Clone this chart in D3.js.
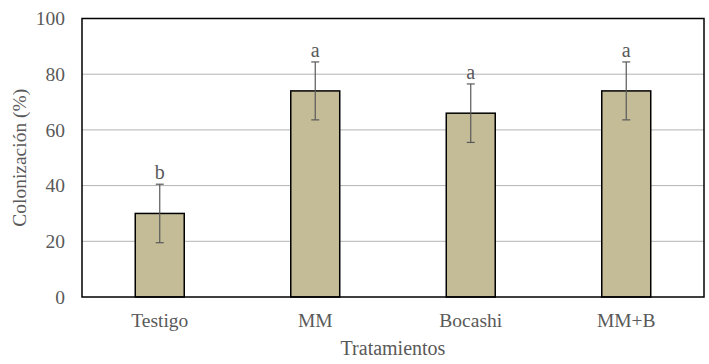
<!DOCTYPE html>
<html>
<head>
<meta charset="utf-8">
<script src="https://cdn.jsdelivr.net/npm/d3@7"></script>
<style>
  body { margin: 0; background: #fff; }
  text { font-family: "Liberation Serif", "Times New Roman", serif; fill: #595959; }
</style>
</head>
<body>
<script>
// data
const categories = ["Testigo", "MM", "Bocashi", "MM+B"];
const means = [30, 74, 66, 74];
const errors = [10.5, 10.4, 10.5, 10.4];
const letters = ["b", "a", "a", "a"];
const yTicks = [0, 20, 40, 60, 80, 100];

function main(){
    let width = 709, height = 364;
    let margin = {left: 82, right: 5, top: 18.5, bottom: 67};
    let w = width - margin.left - margin.right;
    let h = height - margin.top - margin.bottom;

    let svg = d3.select("body").append("svg")
        .attr("width", width)
        .attr("height", height);

    let g = svg.append("g")
        .attr("transform", "translate(" + margin.left + "," + margin.top + ")");

    let xScale = d3.scaleBand().domain(categories).range([0, w]).paddingInner(0.685).paddingOuter(0.3425);
    let yScale = d3.scaleLinear().domain([0, 100]).range([h, 0]);

    // gridlines
    g.selectAll(".grid")
        .data(yTicks.filter(d => d > 0 && d < 100))
        .enter().append("line")
        .attr("x1", 0).attr("x2", w)
        .attr("y1", d => yScale(d)).attr("y2", d => yScale(d))
        .attr("stroke", "#b3b3b3")
        .attr("stroke-width", 1);

    // bars
    let rows = categories.map((c, i) => ({cat: c, v: means[i], e: errors[i], l: letters[i]}));
    g.selectAll("rect.bar")
        .data(rows)
        .enter().append("rect")
        .attr("class", "bar")
        .attr("x", d => xScale(d.cat))
        .attr("y", d => yScale(d.v))
        .attr("width", xScale.bandwidth())
        .attr("height", d => h - yScale(d.v))
        .attr("fill", "#c4bc96")
        .attr("stroke", "#000")
        .attr("stroke-width", 1.5);

    // error bars
    let cx = d => xScale(d.cat) + xScale.bandwidth() / 2;
    let eg = g.selectAll(".err").data(rows).enter().append("g");
    eg.append("line")
        .attr("x1", cx).attr("x2", cx)
        .attr("y1", d => yScale(d.v + d.e)).attr("y2", d => yScale(d.v - d.e))
        .attr("stroke", "#595959").attr("stroke-width", 1.2);
    [1, -1].forEach(s => {
        eg.append("line")
            .attr("x1", d => cx(d) - 4).attr("x2", d => cx(d) + 4)
            .attr("y1", d => yScale(d.v + s * d.e)).attr("y2", d => yScale(d.v + s * d.e))
            .attr("stroke", "#595959").attr("stroke-width", 1.2);
    });
    eg.append("text")
        .attr("x", cx)
        .attr("y", d => yScale(d.v + d.e) - 5)
        .attr("text-anchor", "middle")
        .attr("font-size", 20)
        .text(d => d.l);

    // plot border
    g.append("rect")
        .attr("x", 0).attr("y", 0)
        .attr("width", w).attr("height", h)
        .attr("fill", "none")
        .attr("stroke", "#000")
        .attr("stroke-width", 1.5);

    // y axis
    let yAxis = g.append("g")
        .call(d3.axisLeft(yScale).tickValues(yTicks).tickSize(0).tickPadding(17));
    yAxis.select(".domain").remove();
    yAxis.selectAll("text")
        .attr("font-size", 19.5)
        .style("font-family", "Liberation Serif, serif")
        .attr("fill", "#595959");

    // x axis
    let xAxis = g.append("g")
        .attr("transform", "translate(0," + h + ")")
        .call(d3.axisBottom(xScale).tickSize(0).tickPadding(16));
    xAxis.select(".domain").remove();
    xAxis.selectAll("text")
        .attr("font-size", 19.5)
        .style("font-family", "Liberation Serif, serif")
        .attr("fill", "#595959");

    // axis titles
    svg.append("text")
        .attr("x", margin.left + w / 2)
        .attr("y", 355)
        .attr("text-anchor", "middle")
        .attr("font-size", 20)
        .text("Tratamientos");

    svg.append("text")
        .attr("transform", "translate(26," + (margin.top + h / 2) + ") rotate(-90)")
        .attr("text-anchor", "middle")
        .attr("font-size", 19.5)
        .text("Colonización (%)");
}

main();
</script>
</body>
</html>
